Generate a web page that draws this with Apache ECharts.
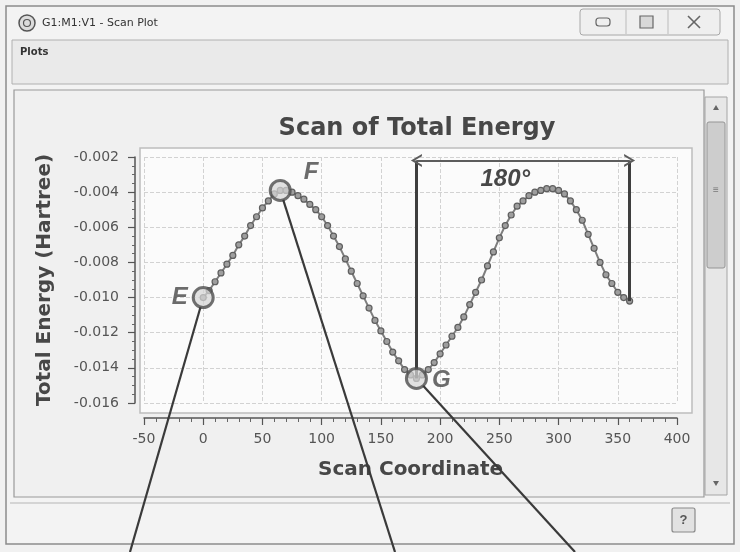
<!DOCTYPE html>
<html>
<head>
<meta charset="utf-8">
<script src="https://cdn.jsdelivr.net/npm/echarts@6/dist/echarts.min.js"></script>
<style>
  html, body { margin: 0; padding: 0; background: #f1f1f1; }
  #c { width: 740px; height: 552px; }
</style>
</head>
<body>
<div id="c"></div>
<script>
// Dihedral scan: scan coordinate (degrees) and total energy (Hartree)
const scanCoord = [
  0, 5, 10, 15, 20, 25, 30, 35, 40, 45, 50, 55, 60, 65, 70, 75, 80, 85, 90, 95,
  100, 105, 110, 115, 120, 125, 130, 135, 140, 145, 150, 155, 160, 165, 170, 175,
  180, 185, 190, 195, 200, 205, 210, 215, 220, 225, 230, 235, 240, 245, 250, 255,
  260, 265, 270, 275, 280, 285, 290, 295, 300, 305, 310, 315, 320, 325, 330, 335,
  340, 345, 350, 355, 360
];
const totalEnergy = [
  -0.0100, -0.0096, -0.0091, -0.0086, -0.0081, -0.0076, -0.0070, -0.0065, -0.0059, -0.0054,
  -0.0049, -0.0045, -0.0041, -0.0039, -0.0039, -0.0040, -0.0042, -0.0044, -0.0047, -0.0050,
  -0.0054, -0.0059, -0.0065, -0.0071, -0.0078, -0.0085, -0.0092, -0.0099, -0.0106, -0.0113,
  -0.0119, -0.0125, -0.0131, -0.0136, -0.0141, -0.0144, -0.0146, -0.0144, -0.0141, -0.0137,
  -0.0132, -0.0127, -0.0122, -0.0117, -0.0111, -0.0104, -0.0097, -0.0090, -0.0082, -0.0074,
  -0.0066, -0.0059, -0.0053, -0.0048, -0.0045, -0.0042, -0.0040, -0.0039, -0.0038, -0.0038,
  -0.0039, -0.0041, -0.0045, -0.0050, -0.0056, -0.0064, -0.0072, -0.0080, -0.0087, -0.0092,
  -0.0097, -0.0100, -0.0102
];

// Axis ranges: [min, max, interval]
const xRange = [-50, 400, 50];
const yRange = [-0.016, -0.002, 0.002];

// Highlighted structures along the scan
const markedNames = ['E', 'F', 'G'];
const markedCoords = [0, 65, 180];

// Bracket spanning half a rotation
const spanFrom = 180;
const spanTo = 360;
const spanTop = -0.0022;
const spanText = '180°';
const spanTextAt = [255, -0.0033];

const FONT = 'Liberation Sans, Arial, sans-serif';
const BOLD = 'DejaVu Sans, Verdana, sans-serif';
const INK = '#474747';

const energyAt = x => totalEnergy[scanCoord.indexOf(x)];
const lineData = scanCoord.map((x, i) => [x, totalEnergy[i]]);

const labelPlacement = {
  E: { position: 'left', distance: 4 },
  F: { position: 'right', distance: 4, offset: [8, -18] },
  G: { position: 'right', distance: 4, offset: [0, 2] }
};
const markData = markedNames.map((n, i) => ({
  name: n,
  value: [markedCoords[i], energyAt(markedCoords[i])],
  label: labelPlacement[n]
}));

// Open chevron used for the bracket arrow heads
const chevron = 'path://M0,12 L6,0 L12,12 L10,12 L6,4 L2,12 Z';

// Window frame, menu bar, panel, scrollbar and status bar
const chrome = [
  { id: 'frame', type: 'rect', z: -20, shape: { x: 6, y: 6, width: 728, height: 538 },
    style: { fill: '#f3f3f3', stroke: '#8c8c8c', lineWidth: 1.5 } },
  { id: 'icon', type: 'circle', z: -19, shape: { cx: 27, cy: 23, r: 8 },
    style: { fill: '#dcdcdc', stroke: '#555', lineWidth: 1.5 } },
  { id: 'icon2', type: 'circle', z: -19, shape: { cx: 27, cy: 23, r: 3.5 },
    style: { fill: 'none', stroke: '#555', lineWidth: 1.2 } },
  { id: 'wtitle', type: 'text', z: -19, x: 42, y: 23,
    style: { text: 'G1:M1:V1 - Scan Plot', fill: '#333', font: '11px ' + BOLD, textVerticalAlign: 'middle' } },
  { id: 'btnbox', type: 'rect', z: -19, shape: { x: 580, y: 9, width: 140, height: 26, r: 3 },
    style: { fill: '#efefef', stroke: '#a8a8a8', lineWidth: 1 } },
  { id: 'btnsep1', type: 'line', z: -19, shape: { x1: 626, y1: 10, x2: 626, y2: 34 }, style: { stroke: '#bbb' } },
  { id: 'btnsep2', type: 'line', z: -19, shape: { x1: 668, y1: 10, x2: 668, y2: 34 }, style: { stroke: '#bbb' } },
  { id: 'btnmin', type: 'rect', z: -19, shape: { x: 596, y: 18, width: 14, height: 8, r: 3 },
    style: { fill: 'none', stroke: '#666', lineWidth: 1.2 } },
  { id: 'btnmax', type: 'rect', z: -19, shape: { x: 640, y: 16, width: 13, height: 12 },
    style: { fill: '#d8d8d8', stroke: '#666', lineWidth: 1.2 } },
  { id: 'btnx1', type: 'line', z: -19, shape: { x1: 688, y1: 16, x2: 700, y2: 28 }, style: { stroke: '#666', lineWidth: 1.6 } },
  { id: 'btnx2', type: 'line', z: -19, shape: { x1: 700, y1: 16, x2: 688, y2: 28 }, style: { stroke: '#666', lineWidth: 1.6 } },
  { id: 'menubar', type: 'rect', z: -19, shape: { x: 12, y: 40, width: 716, height: 44 },
    style: { fill: '#eaeaea', stroke: '#b0b0b0', lineWidth: 1 } },
  { id: 'menu', type: 'text', z: -18, x: 20, y: 52,
    style: { text: 'Plots', fill: '#333', font: 'bold 10px ' + BOLD, textVerticalAlign: 'middle' } },
  { id: 'panel', type: 'rect', z: -19, shape: { x: 14, y: 90, width: 690, height: 407 },
    style: { fill: '#f0f0f0', stroke: '#9a9a9a', lineWidth: 1.2 } },
  { id: 'track', type: 'rect', z: -18, shape: { x: 705, y: 97, width: 22, height: 398 },
    style: { fill: '#e7e7e7', stroke: '#a5a5a5', lineWidth: 1 } },
  { id: 'thumb', type: 'rect', z: -17, shape: { x: 707, y: 122, width: 18, height: 146, r: 2 },
    style: { fill: '#cdcdcd', stroke: '#959595', lineWidth: 1 } },
  { id: 'grip', type: 'text', z: -16, x: 716, y: 190,
    style: { text: '≡', fill: '#777', font: '10px ' + FONT, align: 'center', verticalAlign: 'middle' } },
  { id: 'arrUp', type: 'polygon', z: -17, shape: { points: [[713, 110], [719, 110], [716, 105]] },
    style: { fill: '#666' } },
  { id: 'arrDn', type: 'polygon', z: -17, shape: { points: [[713, 481], [719, 481], [716, 486]] },
    style: { fill: '#666' } },
  { id: 'status', type: 'line', z: -18, shape: { x1: 10, y1: 503, x2: 730, y2: 503 },
    style: { stroke: '#b5b5b5', lineWidth: 1 } },
  { id: 'helpbox', type: 'rect', z: -17, shape: { x: 672, y: 508, width: 23, height: 24, r: 2 },
    style: { fill: '#e2e2e2', stroke: '#8a8a8a', lineWidth: 1.2 } },
  { id: 'helptxt', type: 'text', z: -16, x: 683.5, y: 520,
    style: { text: '?', fill: '#555', font: 'bold 13px ' + FONT, align: 'center', verticalAlign: 'middle' } },
  { id: 'plotbox', type: 'rect', z: -15, shape: { x: 140, y: 148, width: 552, height: 265 },
    style: { fill: '#fbfbfb', stroke: '#bdbdbd', lineWidth: 1.5 } }
];

const axisText = { fontFamily: BOLD, fontSize: 14, color: '#555' };
const nameText = { fontFamily: BOLD, fontSize: 20, fontWeight: 'bold', color: INK };

const option = {
  backgroundColor: '#f1f1f1',
  animation: false,
  title: {
    text: 'Scan of Total Energy',
    left: 412, top: 112, textAlign: 'center',
    textStyle: { fontFamily: BOLD, fontSize: 24, fontWeight: 'bold', color: INK }
  },
  grid: { left: 144, right: 63, top: 157, bottom: 149 },
  xAxis: {
    type: 'value', min: xRange[0], max: xRange[1], interval: xRange[2],
    offset: 15,
    name: 'Scan Coordinate', nameLocation: 'middle', nameGap: 42, nameTextStyle: nameText,
    axisLine: { show: true, onZero: false, lineStyle: { color: '#555', width: 1.5 } },
    axisTick: { show: true, length: 7, lineStyle: { color: '#555', width: 1.2 } },
    minorTick: { show: true, splitNumber: 5, length: 4, lineStyle: { color: '#666' } },
    axisLabel: Object.assign({ margin: 14 }, axisText),
    splitLine: { show: true, lineStyle: { color: '#d2d2d2', type: 'dashed' } }
  },
  yAxis: {
    type: 'value', min: yRange[0], max: yRange[1], interval: yRange[2],
    offset: 9,
    name: 'Total Energy (Hartree)', nameLocation: 'middle', nameGap: 80, nameTextStyle: nameText,
    axisLine: { show: true, onZero: false, lineStyle: { color: '#555', width: 1.5 } },
    axisTick: { show: true, length: 7, lineStyle: { color: '#555', width: 1.2 } },
    minorTick: { show: true, splitNumber: 4, length: 3, lineStyle: { color: '#666' } },
    axisLabel: Object.assign({ margin: 16, formatter: v => v.toFixed(3) }, axisText),
    splitLine: { show: true, lineStyle: { color: '#d2d2d2', type: 'dashed' } }
  },
  graphic: chrome,
  series: [
    {
      type: 'line',
      data: lineData,
      symbol: 'circle', symbolSize: 6, showSymbol: true,
      lineStyle: { color: '#7e7e7e', width: 2 },
      itemStyle: { color: '#9e9e9e', borderColor: '#5e5e5e', borderWidth: 1.2 },
      z: 3
    },
    {
      type: 'scatter',
      data: markData,
      symbol: 'circle', symbolSize: 20,
      itemStyle: { color: 'rgba(214,214,214,0.9)', borderColor: '#4d4d4d', borderWidth: 3 },
      label: {
        show: true, formatter: '{b}',
        fontFamily: FONT, fontSize: 24, fontWeight: 'bold', fontStyle: 'italic', color: INK
      },
      z: 5,
      markLine: {
        silent: true, animation: false,
        symbol: ['none', 'none'],
        label: { show: false },
        lineStyle: { color: '#3e3e3e', width: 3, type: 'solid' },
        data: [
          [{ coord: [spanFrom, spanTop] }, { coord: [spanFrom, energyAt(spanFrom)] }],
          [{ coord: [spanTo, spanTop] }, { coord: [spanTo, energyAt(spanTo)] }],
          [
            { coord: [spanFrom, spanTop], symbol: chevron, symbolSize: [13, 11],
              lineStyle: { width: 2, color: '#5c5c5c' },
              itemStyle: { color: '#5c5c5c' } },
            { coord: [spanTo, spanTop], symbol: chevron, symbolSize: [13, 11] }
          ]
        ]
      },
      markPoint: {
        silent: true, animation: false,
        data: [{
          coord: spanTextAt, symbol: 'circle', symbolSize: 0,
          label: {
            show: true, position: 'inside', formatter: spanText,
            fontFamily: FONT, fontSize: 24, fontWeight: 'bold', fontStyle: 'italic', color: INK
          }
        }]
      }
    }
  ]
};

const chart = echarts.init(document.getElementById('c'));
chart.setOption(option);

// Leader lines from the highlighted structures down past the window edge
const leaderEnds = [[130, 552], [395, 552], [575, 552]];
const leaders = markedCoords.map((x, i) => {
  const p = chart.convertToPixel({ gridIndex: 0 }, [x, energyAt(x)]);
  const end = leaderEnds[i];
  const dx = end[0] - p[0], dy = end[1] - p[1];
  const len = Math.sqrt(dx * dx + dy * dy);
  const r = 10;
  return {
    id: 'leader' + i, type: 'line', z: 100,
    shape: { x1: p[0] + dx / len * r, y1: p[1] + dy / len * r, x2: end[0], y2: end[1] },
    style: { stroke: '#3a3a3a', lineWidth: 2.2 }
  };
});
chart.setOption({ graphic: leaders });
</script>
</body>
</html>
